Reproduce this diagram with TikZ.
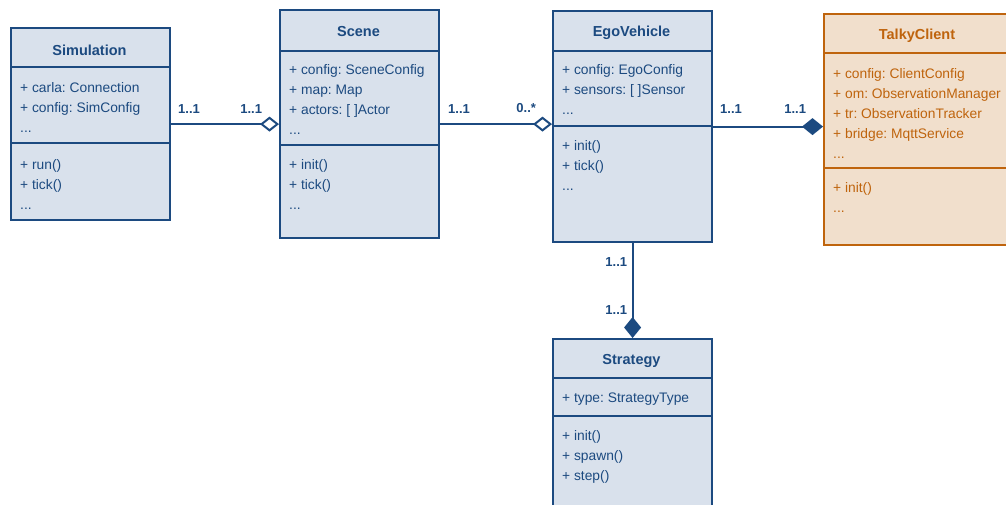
\documentclass[tikz,border=0pt]{standalone}
\usepackage{fontspec}
\setmainfont{Liberation Sans}
\usetikzlibrary{arrows.meta, positioning}

\definecolor{umlblue}{HTML}{1C4A80}
\definecolor{umlbluefill}{HTML}{D9E1EC}
\definecolor{umlorange}{HTML}{BF640D}
\definecolor{umlorangefill}{HTML}{F1DFCC}

\tikzstyle{bluebox} = [
    rectangle,
    draw=umlblue,
    fill=umlbluefill,
    line width=2.2pt,
    anchor=north west,
    inner sep=0pt
]
\tikzstyle{orangebox} = [
    bluebox,
    draw=umlorange,
    fill=umlorangefill
]
\tikzstyle{classname} = [
    font=\fontsize{14.5}{17}\selectfont\bfseries,
    anchor=base,
    inner sep=0pt
]
\tikzstyle{members} = [
    font=\fontsize{13.8}{20}\selectfont,
    align=left,
    anchor=north west,
    inner sep=0pt
]
\tikzstyle{divider} = [line width=2.2pt]
\tikzstyle{mult} = [
    font=\fontsize{13}{15}\selectfont\bfseries,
    text=umlblue,
    inner sep=0pt
]
\tikzstyle{agg} = [line width=2pt, draw=umlblue,
    -{Diamond[fill=white, length=19pt, width=15pt]}]
\tikzstyle{comp} = [line width=2pt, draw=umlblue,
    -{Diamond[length=21pt, width=17pt]}]

\begin{document}
\frenchspacing
\begin{tikzpicture}[x=1pt, y=-1pt]

\useasboundingbox (0,0) rectangle (1006,504);

% Simulation
\node (sim) [bluebox, minimum width=159pt, minimum height=192pt] at (10,27) {};
\draw [divider, umlblue] (10,67) -- (169,67);
\draw [divider, umlblue] (10,143) -- (169,143);
\node (simtitle) [classname, text=umlblue] at (89.5,55) {Simulation};
\node (simattr) [members, text=umlblue] at (20,82)
{+ carla: Connection\\+ config: SimConfig\\...};
\node (simops) [members, text=umlblue] at (20,159)
{+ run()\\+ tick()\\...};

% Scene
\node (scene) [bluebox, minimum width=159pt, minimum height=228pt] at (279,9) {};
\draw [divider, umlblue] (279,51) -- (438,51);
\draw [divider, umlblue] (279,145) -- (438,145);
\node (scenetitle) [classname, text=umlblue] at (358.5,36) {Scene};
\node (sceneattr) [members, text=umlblue] at (289,64)
{+ config: SceneConfig\\+ map: Map\\+ actors: [ ]Actor\\...};
\node (sceneops) [members, text=umlblue] at (289,159)
{+ init()\\+ tick()\\...};

% EgoVehicle
\node (ego) [bluebox, minimum width=159pt, minimum height=231pt] at (552,10) {};
\draw [divider, umlblue] (552,51) -- (711,51);
\draw [divider, umlblue] (552,126) -- (711,126);
\node (egotitle) [classname, text=umlblue] at (631.5,36) {EgoVehicle};
\node (egoattr) [members, text=umlblue] at (562,64)
{+ config: EgoConfig\\+ sensors: [ ]Sensor\\...};
\node (egoops) [members, text=umlblue] at (562,140)
{+ init()\\+ tick()\\...};

% TalkyClient
\node (talky) [orangebox, minimum width=188pt, minimum height=231pt] at (823,13) {};
\draw [divider, umlorange] (823,53) -- (1011,53);
\draw [divider, umlorange] (823,168) -- (1011,168);
\node (talkytitle) [classname, text=umlorange] at (917,39) {TalkyClient};
\node (talkyattr) [members, text=umlorange] at (833,68)
{+ config: ClientConfig\\+ om: ObservationManager\\+ tr: ObservationTracker\\+ bridge: MqttService\\...};
\node (talkyops) [members, text=umlorange] at (833,182)
{+ init()\\...};

% Strategy
\node (strat) [bluebox, minimum width=159pt, minimum height=190pt] at (552,338) {};
\draw [divider, umlblue] (552,378) -- (711,378);
\draw [divider, umlblue] (552,416) -- (711,416);
\node (strattitle) [classname, text=umlblue] at (631.5,364) {Strategy};
\node (stratattr) [members, text=umlblue] at (562,393)
{+ type: StrategyType};
\node (stratops) [members, text=umlblue] at (562,430)
{+ init()\\+ spawn()\\+ step()};

% associations
\draw [agg] (sim) -- (scene)
    node [mult, pos=0, anchor=south west, xshift=6pt, yshift=10pt] {1..1}
    node [mult, pos=1, anchor=south east, xshift=-16pt, yshift=10pt] {1..1};
\draw [agg] (scene.east) -- (scene.east -| ego.west)
    node [mult, pos=0, anchor=south west, xshift=7pt, yshift=10pt] {1..1}
    node [mult, pos=1, anchor=south east, xshift=-15pt, yshift=10pt] {0..*};
\draw [comp] (ego.east) -- (ego.east -| talky.west)
    node [mult, pos=0, anchor=south west, xshift=6pt, yshift=12pt] {1..1}
    node [mult, pos=1, anchor=south east, xshift=-16pt, yshift=12pt] {1..1};
\draw [comp] (ego.south) -- (strat.north)
    node [mult, pos=0, anchor=north east, xshift=-4.5pt, yshift=-13.5pt] {1..1}
    node [mult, pos=1, anchor=south east, xshift=-4.5pt, yshift=23pt] {1..1};

\end{tikzpicture}
\end{document}
